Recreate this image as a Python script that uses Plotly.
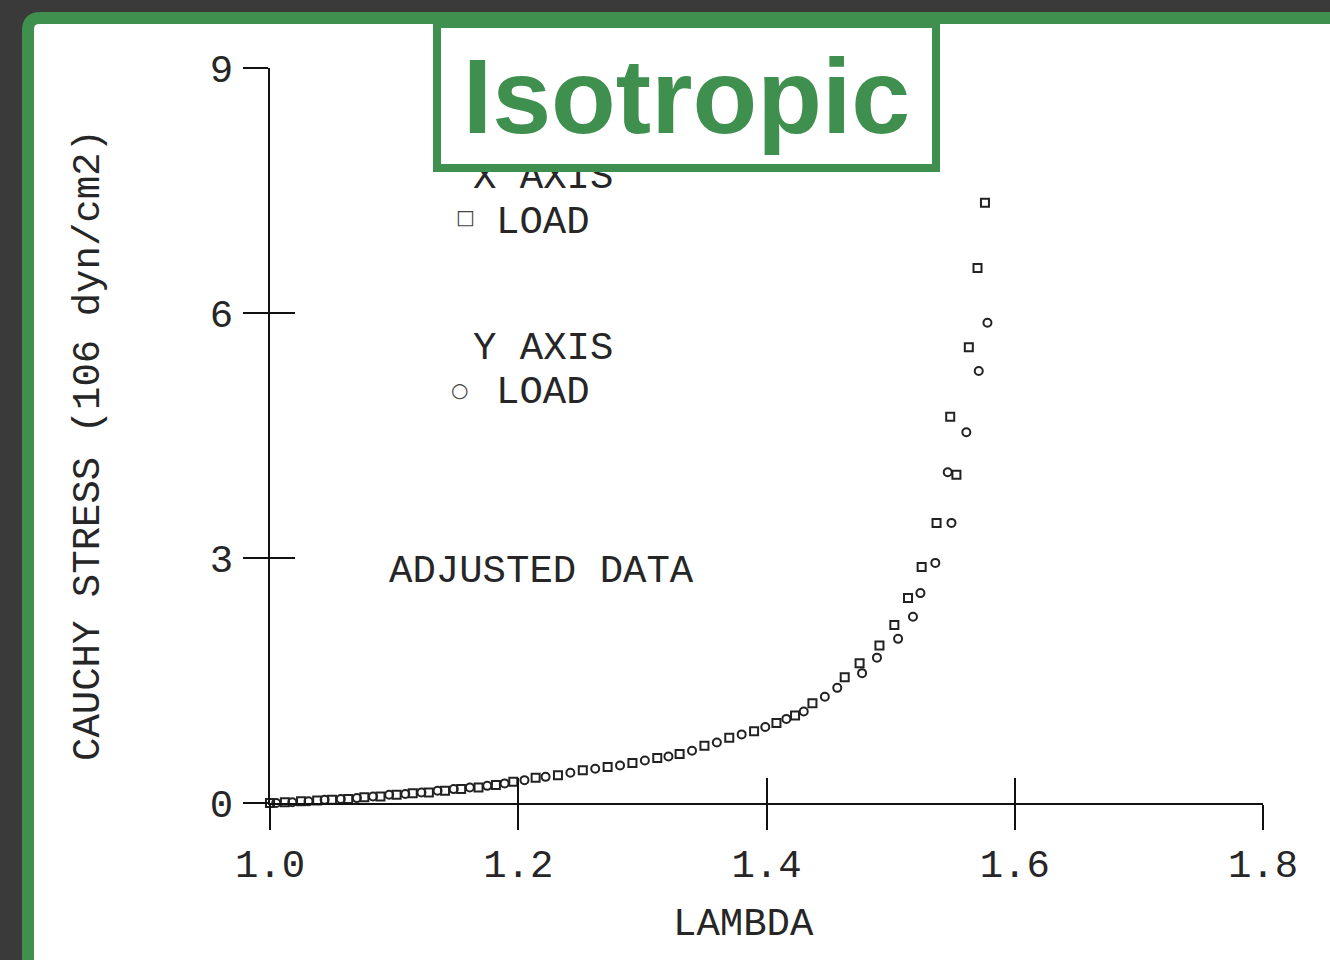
import plotly.graph_objects as go

# ---------------- data ----------------
x_load_lambda = [1.000, 1.012, 1.025, 1.038, 1.050, 1.063, 1.076, 1.089, 1.102, 1.115,
                 1.128, 1.141, 1.154, 1.168, 1.182, 1.196, 1.214, 1.232, 1.252, 1.272,
                 1.292, 1.312, 1.330, 1.350, 1.370, 1.390, 1.408, 1.423, 1.437, 1.463,
                 1.475, 1.491, 1.503, 1.514, 1.525, 1.537, 1.553, 1.548, 1.563, 1.570, 1.576]
x_load_stress = [0.00, 0.01, 0.02, 0.03, 0.04, 0.05, 0.07, 0.08, 0.10, 0.12,
                 0.13, 0.15, 0.17, 0.19, 0.22, 0.26, 0.31, 0.34, 0.40, 0.44,
                 0.49, 0.55, 0.60, 0.70, 0.80, 0.88, 0.98, 1.07, 1.22, 1.54,
                 1.71, 1.93, 2.18, 2.51, 2.89, 3.43, 4.02, 4.73, 5.58, 6.55, 7.35]

y_load_lambda = [1.005, 1.018, 1.031, 1.044, 1.057, 1.070, 1.083, 1.096, 1.109, 1.122,
                 1.135, 1.148, 1.161, 1.175, 1.189, 1.205, 1.222, 1.242, 1.262, 1.282,
                 1.302, 1.321, 1.340, 1.360, 1.380, 1.399, 1.416, 1.430, 1.447, 1.457,
                 1.477, 1.489, 1.506, 1.518, 1.524, 1.536, 1.549, 1.546, 1.561, 1.571, 1.578]
y_load_stress = [0.00, 0.01, 0.02, 0.04, 0.05, 0.06, 0.08, 0.10, 0.11, 0.13,
                 0.15, 0.17, 0.19, 0.21, 0.24, 0.28, 0.32, 0.37, 0.42, 0.46,
                 0.52, 0.57, 0.64, 0.74, 0.84, 0.93, 1.03, 1.12, 1.30, 1.41,
                 1.59, 1.78, 2.01, 2.28, 2.57, 2.94, 3.43, 4.05, 4.54, 5.29, 5.88]

x_ticks = [1.0, 1.2, 1.4, 1.6, 1.8]
x_tick_labels = ["1.0", "1.2", "1.4", "1.6", "1.8"]
y_ticks = [0, 3, 6, 9]
y_tick_labels = ["0", "3", "6", "9"]

title_text = "Isotropic"
x_title = "LAMBDA"
y_title = "CAUCHY STRESS (106 dyn/cm2)"

# ---------------- layout constants ----------------
W, H = 1330, 960
L, R, T, B = 270, 67, 68, 157
PW, PH = W - L - R, H - T - B
GREEN = "#3f8f4f"
DARK = "#3a3a3a"
INK = "#262626"
MONO = "Liberation Mono, DejaVu Sans Mono, monospace"
FS = 39


def px(x):
    return (x - L) / PW


def py(y):
    return (H - B - y) / PH


fig = go.Figure()

marker_line = dict(color="#222222", width=2)
fig.add_trace(go.Scatter(
    x=x_load_lambda, y=x_load_stress, mode="markers", name="X AXIS LOAD",
    marker=dict(symbol="square-open", size=8, color="#222222", line=marker_line),
    cliponaxis=False, showlegend=False))
fig.add_trace(go.Scatter(
    x=y_load_lambda, y=y_load_stress, mode="markers", name="Y AXIS LOAD",
    marker=dict(symbol="circle-open", size=8, color="#222222", line=marker_line),
    cliponaxis=False, showlegend=False))
# empty trace to carry the overlay axes (inner half of crossing ticks)
fig.add_trace(go.Scatter(x=[], y=[], xaxis="x2", yaxis="y2", showlegend=False))

axis_common = dict(showgrid=False, zeroline=False, tickcolor="#111111", tickwidth=2,
                   ticklen=25)

fig.update_layout(
    width=W, height=H, autosize=False,
    margin=dict(l=L, r=R, t=T, b=B, pad=0),
    paper_bgcolor=DARK, plot_bgcolor="rgba(0,0,0,0)",
    xaxis=dict(range=[1.0, 1.8], tickvals=x_ticks, ticktext=x_tick_labels,
               ticks="outside", showline=True, linecolor="#111111", linewidth=2,
               tickfont=dict(family=MONO, size=FS, color=INK),
               ticklabelstandoff=0, **axis_common),
    yaxis=dict(range=[0, 9], tickvals=y_ticks, ticktext=y_tick_labels,
               ticks="outside", showline=True, linecolor="#111111", linewidth=2,
               tickfont=dict(family=MONO, size=FS, color=INK),
               ticklabelstandoff=2, **axis_common),
    xaxis2=dict(range=[1.0, 1.8], tickvals=x_ticks, ticks="inside",
                showticklabels=False, overlaying="x", anchor="y2", side="bottom",
                showline=False, **axis_common),
    yaxis2=dict(range=[0, 9], tickvals=y_ticks, ticks="inside",
                showticklabels=False, overlaying="y", anchor="x2", side="left",
                showline=False, **axis_common),
)

# outer green frame with white interior (extends beyond right/bottom edges)
fx0, fy0, fx1, fy1, rad = px(28), py(18), px(1400), py(1020), 12
path = (f"M {px(28 + rad)} {fy0} L {fx1} {fy0} L {fx1} {fy1} L {fx0} {fy1} "
        f"L {fx0} {py(18 + rad)} Q {fx0} {fy0} {px(28 + rad)} {fy0} Z")
fig.add_shape(type="path", path=path, xref="paper", yref="paper",
              fillcolor="white", line=dict(color=GREEN, width=12), layer="below")

text_font = dict(family=MONO, size=FS, color=INK)


def note(text, x, y, **kw):
    fig.add_annotation(text=text, x=px(x), y=py(y), xref="paper", yref="paper",
                       showarrow=False, xanchor="center", yanchor="middle",
                       font=kw.pop("font", text_font), **kw)


note("X AXIS", 543, 178)
note("LOAD", 543, 223)
note("□", 465, 217, font=dict(family="DejaVu Sans", size=20, color="#444"))
note("Y AXIS", 543, 349)
note("LOAD", 543, 393)
note("○", 459, 390, font=dict(family="DejaVu Sans", size=20, color="#444"))
note("ADJUSTED DATA", 541, 572)
note(x_title, 743, 925)
note(y_title, 89, 445, textangle=-90)

# title box (drawn last so it sits over the partially hidden "X AXIS")
fig.add_annotation(text=f"<b>{title_text}</b>", x=px(686.5), y=py(96),
                   xref="paper", yref="paper", showarrow=False,
                   xanchor="center", yanchor="middle",
                   font=dict(family="Liberation Sans, Arial", size=106, color=GREEN),
                   bgcolor="white", bordercolor=GREEN, borderwidth=8, borderpad=0,
                   width=491, height=136, align="center", valign="middle")

fig.write_html("out.html", config={"displayModeBar": False},
               post_script="document.body.style.margin='0';"
                           "document.body.style.background='#3a3a3a';")
